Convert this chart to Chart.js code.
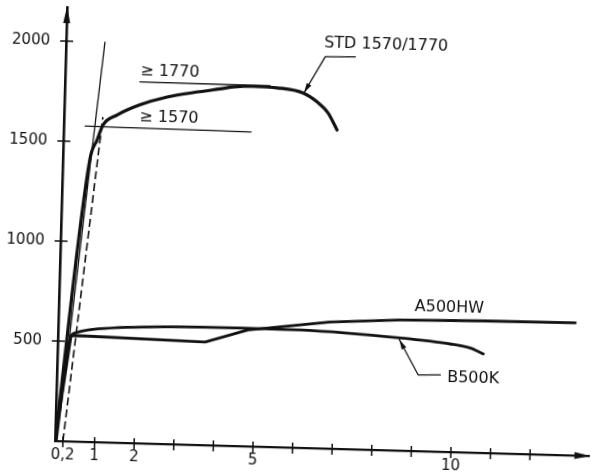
<!DOCTYPE html>
<html>
<head>
<meta charset="utf-8">
<script src="https://cdn.jsdelivr.net/npm/chart.js@4.4.0/dist/chart.umd.min.js"></script>
<style>
html,body{margin:0;padding:0;background:#fff;overflow:hidden;}
#c{display:block;transform:rotate(1.6deg);transform-origin:55px 441px;}
</style>
</head>
<body>
<canvas id="c" width="591" height="475"></canvas>
<script>
// ---- tick values and labels ----
const strainTicks = [0.2, 1, 2, 3, 4, 5, 6, 7, 8, 9, 10, 11, 12];
const strainTickLabels = ['0,2', '1', '2', '', '', '5', '', '', '', '', '10', '', ''];
const stressTicks = [500, 1000, 1500, 2000];
const stressTickLabels = ['500', '1000', '1500', '2000'];

// ---- series (strain %, stress MPa) ----
const stdStrain = [0, 0.68, 0.85, 0.99, 1.34, 1.91, 2.59, 3.41, 3.92, 4.24, 4.75, 5.36, 6.02, 6.38, 6.66, 6.90];
const stdStress = [0, 1410, 1510, 1586, 1638, 1692, 1735, 1766, 1783, 1794, 1800, 1796, 1774, 1731, 1678, 1594];

const elasticStrain = [0.05, 0.98];
const elasticStress = [0, 2000];

const offsetStrain = [0.2, 0.98];
const offsetStress = [0, 1626];

const a500Strain = [0, 0.33, 0.45, 3.72, 4.79, 5.80, 6.86, 8.63, 10.72, 13.05];
const a500Stress = [0, 527, 530, 516, 582, 607, 633, 653, 660, 663];

const b500Strain = [0, 0.33, 0.43, 0.75, 2.44, 4.64, 6.11, 8.64, 9.91, 10.41, 10.75];
const b500Stress = [0, 527, 543, 559, 584, 591, 589, 563, 540, 523, 495];

const ref1570Strain = [0.54, 4.73];
const ref1570Stress = [1578, 1572];
const ref1770Strain = [1.89, 5.18];
const ref1770Stress = [1807, 1805];

const stdLeaderStrain = [7.31, 6.55, 6.04];
const stdLeaderStress = [1962, 1958, 1775];
const b500LeaderStrain = [9.68, 9.12, 8.62];
const b500LeaderStress = [384, 381, 555];

const labelTexts = ['STD 1570/1770', '\u2265 1770', '\u2265 1570', 'A500HW', 'B500K'];
const labelStrain = [8.08, 2.64, 2.65, 9.86, 10.51];
const labelStress = [2026, 1861, 1631, 720, 373];

// ---- helpers ----
const pts = (xs, ys) => xs.map((x, i) => ({x: x, y: ys[i]}));
const INK = '#111';

function ds(xs, ys, style) {
  return Object.assign({
    data: pts(xs, ys),
    borderColor: INK,
    backgroundColor: INK,
    pointRadius: 0,
    fill: false,
    tension: 0,
    borderCapStyle: 'round',
    borderJoinStyle: 'round'
  }, style);
}

const decorPlugin = {
  id: 'decor',
  afterDraw(chart) {
    const ctx = chart.ctx;
    const xs = chart.scales.x, ys = chart.scales.y;
    const ca = chart.chartArea;
    ctx.save();
    ctx.strokeStyle = INK;
    ctx.fillStyle = INK;
    // tick marks crossing the axes
    ctx.lineWidth = 1.5;
    strainTicks.forEach(v => {
      const px = xs.getPixelForValue(v);
      ctx.beginPath(); ctx.moveTo(px, ca.bottom - 5); ctx.lineTo(px, ca.bottom + 6); ctx.stroke();
    });
    stressTicks.forEach(v => {
      const py = ys.getPixelForValue(v);
      ctx.beginPath(); ctx.moveTo(ca.left - 6, py); ctx.lineTo(ca.left + 7, py); ctx.stroke();
    });
    // axis arrowheads
    ctx.beginPath();
    ctx.moveTo(ca.left, ca.top - 1);
    ctx.lineTo(ca.left - 3.5, ca.top + 16);
    ctx.lineTo(ca.left + 3.5, ca.top + 16);
    ctx.closePath(); ctx.fill();
    ctx.beginPath();
    ctx.moveTo(ca.right + 1, ca.bottom);
    ctx.lineTo(ca.right - 15, ca.bottom - 3.5);
    ctx.lineTo(ca.right - 15, ca.bottom + 3.5);
    ctx.closePath(); ctx.fill();
    // leader arrowheads
    [[stdLeaderStrain, stdLeaderStress], [b500LeaderStrain, b500LeaderStress]].forEach(([lx, ly]) => {
      const n = lx.length;
      const x1 = xs.getPixelForValue(lx[n - 2]), y1 = ys.getPixelForValue(ly[n - 2]);
      const x2 = xs.getPixelForValue(lx[n - 1]), y2 = ys.getPixelForValue(ly[n - 1]);
      const ang = Math.atan2(y2 - y1, x2 - x1);
      const L = 10, W = 2.6;
      ctx.beginPath();
      ctx.moveTo(x2, y2);
      ctx.lineTo(x2 - L * Math.cos(ang) + W * Math.sin(ang), y2 - L * Math.sin(ang) - W * Math.cos(ang));
      ctx.lineTo(x2 - L * Math.cos(ang) - W * Math.sin(ang), y2 - L * Math.sin(ang) + W * Math.cos(ang));
      ctx.closePath(); ctx.fill();
    });
    // text labels
    ctx.font = '16px "DejaVu Sans"';
    ctx.textAlign = 'center';
    ctx.textBaseline = 'middle';
    labelTexts.forEach((t, i) => {
      ctx.fillText(t, xs.getPixelForValue(labelStrain[i]), ys.getPixelForValue(labelStress[i]));
    });
    ctx.restore();
  }
};

new Chart(document.getElementById('c'), {
  type: 'line',
  data: {
    datasets: [
      ds(stdStrain, stdStress, {borderWidth: 3.2, cubicInterpolationMode: 'monotone'}),
      ds(elasticStrain, elasticStress, {borderWidth: 1.3}),
      ds(offsetStrain, offsetStress, {borderWidth: 1.6, borderDash: [8, 4], borderCapStyle: 'butt'}),
      ds(a500Strain, a500Stress, {borderWidth: 2.8}),
      ds(b500Strain, b500Stress, {borderWidth: 2.8, cubicInterpolationMode: 'monotone'}),
      ds(ref1570Strain, ref1570Stress, {borderWidth: 1.3}),
      ds(ref1770Strain, ref1770Stress, {borderWidth: 1.3}),
      ds(stdLeaderStrain, stdLeaderStress, {borderWidth: 1.3}),
      ds(b500LeaderStrain, b500LeaderStress, {borderWidth: 1.3})
    ]
  },
  options: {
    responsive: false,
    animation: false,
    events: [],
    layout: {padding: {top: 7, right: 1.4, left: 0, bottom: 0}},
    plugins: {legend: {display: false}, tooltip: {enabled: false}},
    scales: {
      x: {
        type: 'linear',
        min: 0,
        max: 13.5,
        grid: {display: false, drawTicks: false},
        border: {display: true, width: 2.2, color: INK},
        afterBuildTicks: s => { s.ticks = strainTicks.map(v => ({value: v})); },
        afterFit: s => { s.height = 34; s.paddingLeft = 0; s.paddingRight = 0; s.paddingTop = 0; s.paddingBottom = 0; },
        ticks: {
          autoSkip: false,
          maxRotation: 0,
          padding: 5,
          color: INK,
          font: {family: 'DejaVu Sans', size: 15},
          callback: v => strainTickLabels[strainTicks.indexOf(v)]
        }
      },
      y: {
        type: 'linear',
        min: 0,
        max: 2170,
        grid: {display: false, drawTicks: false},
        border: {display: true, width: 2.6, color: INK},
        afterBuildTicks: s => { s.ticks = stressTicks.map(v => ({value: v})); },
        afterFit: s => { s.width = 55; s.paddingLeft = 0; s.paddingRight = 0; s.paddingTop = 0; s.paddingBottom = 0; },
        ticks: {
          autoSkip: false,
          padding: 16,
          color: INK,
          font: {family: 'DejaVu Sans', size: 15},
          callback: v => stressTickLabels[stressTicks.indexOf(v)]
        }
      }
    }
  },
  plugins: [decorPlugin]
});
</script>
</body>
</html>
